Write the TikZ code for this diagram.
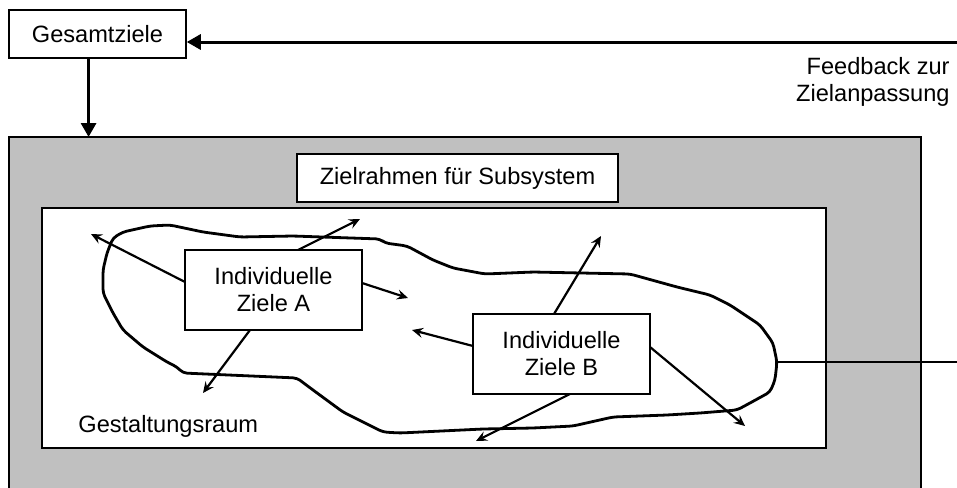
\documentclass[tikz,border=0pt]{standalone}
\usepackage{fontspec}
\setmainfont{Liberation Sans}
\usetikzlibrary{arrows.meta,calc}
\begin{document}
\begin{tikzpicture}[x=0.5pt,y=-0.5pt,
  every node/.style={font=\fontsize{11.8}{13.5}\selectfont},
  box/.style={draw, line width=0.75pt, fill=white, inner sep=0pt, align=center},
  smallarrow/.style={line width=1.1pt, -{Stealth[length=5.5pt,width=5pt,inset=2pt]}},
  bigarrow/.style={line width=1.5pt, -{Triangle[length=7pt,width=7.5pt]}},
  blob/.style={line width=1.4pt, line join=round, rounded corners=2pt}]
\useasboundingbox (0,0) rectangle (957,487);
\clip (0,0) rectangle (957,487);
\fill[white] (0,0) rectangle (957,487);
% outer grey frame
\draw[line width=1pt, fill={rgb,255:red,192;green,192;blue,192}] (9,137) coordinate (outerTL) rectangle (921,520);
% inner white frame
\draw[line width=0.9pt, fill=white] (42,208) rectangle (826,448);
% Gesamtziele
\node[box, minimum width=88.5pt, minimum height=24pt] (gz) at (97.5,34) {Gesamtziele};
\node[box, minimum width=160.5pt, minimum height=24pt] (zr) at (457.5,178) {Zielrahmen für Subsystem};
% feedback
\coordinate (fbstart) at (957,42);
\draw[bigarrow] (fbstart) -- (fbstart -| gz.east);
\node[anchor=base east, inner sep=0pt, align=right] (fbtext) at (950,101) {Feedback zur\\Zielanpassung};
% down arrow
\coordinate (gzout) at ($(gz.south west)!0.45!(gz.south east)$);
\draw[bigarrow] (gzout) -- (gzout |- outerTL);
% blob
\draw[blob] (123,232) -- (150,226) -- (170,225) -- (203,232) -- (240,237) -- (293,236) -- (380,239) -- (385,243) -- (407,246) -- (433,260) -- (453,268) -- (485,274) -- (533,272) -- (630,274) -- (677,287) -- (710,295) -- (730,305) -- (760,325) -- (773,343) -- (777,362) coordinate (blobR) -- (775,380) -- (770,392) -- (750,403) -- (737,410) -- (700,413) -- (667,415) -- (613,417) -- (573,426) -- (533,428) -- (483,429) -- (400,433) -- (383,432) -- (343,412) -- (313,390) -- (297,378) -- (183,373) -- (177,367) -- (167,362) -- (143,347) -- (123,330) -- (113,313) -- (103,293) -- (103,270) -- (107,253) -- (113,238) -- cycle;
\coordinate (rightend) at (957,362);
\draw[line width=0.75pt] (blobR) -- (rightend);
% free ends of the small arrows
\coordinate (a1) at (91,234);
\coordinate (a2) at (360,219);
\coordinate (a3) at (408,298);
\coordinate (a4) at (203,393);
\coordinate (b1) at (412,330);
\coordinate (b2) at (601,236);
\coordinate (b3) at (745,426);
\coordinate (b4) at (476,441);
% boxes A and B (positions)
\path (273.5,290) coordinate (ac) (561.5,354) coordinate (bc);
\draw[smallarrow] ($(ac)+(-88.5,-8)$) -- (a1);
\draw[smallarrow] ($(ac)+(24.5,-40)$) -- (a2);
\draw[smallarrow] ($(ac)+(88.5,-7)$) -- (a3);
\draw[smallarrow] ($(ac)+(-23.5,40)$) -- (a4);
\draw[smallarrow] ($(bc)+(-88.5,-8)$) -- (b1);
\draw[smallarrow] ($(bc)+(-7.5,-40)$) -- (b2);
\draw[smallarrow] ($(bc)+(88.5,-7)$) -- (b3);
\draw[smallarrow] ($(bc)+(8.5,40)$) -- (b4);
\node[box, minimum width=88.5pt, minimum height=40pt] (a) at (ac) {Individuelle\\Ziele A};
\node[box, minimum width=88.5pt, minimum height=40pt] (b) at (bc) {Individuelle\\Ziele B};
\node[anchor=base west, inner sep=0pt] (gr) at (78,432) {Gestaltungsraum};
\end{tikzpicture}
\end{document}
